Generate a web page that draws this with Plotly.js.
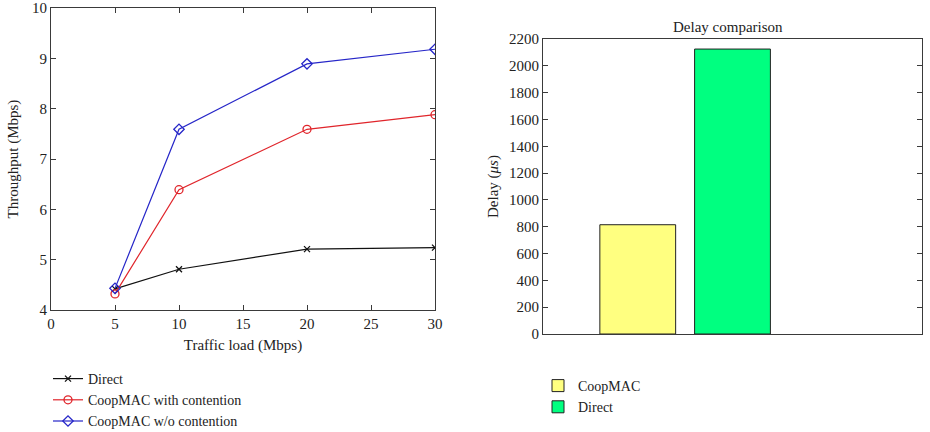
<!DOCTYPE html>
<html>
<head>
<meta charset="utf-8">
<script src="https://cdn.plot.ly/plotly-3.0.1.min.js"></script>
<style>html,body{margin:0;padding:0;background:#fff}#chart{width:930px;height:432px}</style>
</head>
<body>
<div id="chart"></div>
<script>
// ---- Data ----
const trafficLoad = [5, 10, 20, 30];
const directThroughput = [4.42, 4.81, 5.21, 5.24];
const coopWithContention = [4.32, 6.39, 7.59, 7.88];
const coopWithoutContention = [4.43, 7.59, 8.89, 9.18];
const lineSeriesNames = ['Direct', 'CoopMAC with contention', 'CoopMAC w/o contention'];

const delaySchemes = ['CoopMAC', 'Direct'];
const delayValues = [815, 2125];

const xTickVals = [0, 5, 10, 15, 20, 25, 30];
const yTickVals = [4, 5, 6, 7, 8, 9, 10];
const delayTickVals = [0, 200, 400, 600, 800, 1000, 1200, 1400, 1600, 1800, 2000, 2200];

// ---- Styles ----
const FONT = 'Liberation Serif, Times New Roman, serif';
const AXC = '#3a3a3a';
const lineColors = ['#111111', '#e0252b', '#2626c8'];
const lineSymbols = ['x-thin-open', 'circle-open', 'diamond-open'];
const lineSizes = [6, 8, 8];
const barColors = ['#ffff80', '#00ff80'];

const lineSeries = [directThroughput, coopWithContention, coopWithoutContention];
const traces = lineSeries.map((ys, i) => ({
  type: 'scatter', mode: 'lines+markers',
  x: trafficLoad, y: ys, name: lineSeriesNames[i],
  xaxis: 'x', yaxis: 'y', legend: 'legend',
  line: {color: lineColors[i], width: 1.2},
  marker: {symbol: lineSymbols[i], size: lineSizes[i], color: lineColors[i], line: {width: 1.3, color: lineColors[i]}}
}));
delaySchemes.forEach((s, i) => traces.push({
  type: 'bar', x: [s], y: [delayValues[i]], name: s,
  xaxis: 'x2', yaxis: 'y2', legend: 'legend2', width: 0.8,
  marker: {color: barColors[i], line: {color: '#222', width: 1}}
}));

const axBase = {
  showline: true, linecolor: AXC, linewidth: 1, showgrid: false, zeroline: false,
  ticks: 'inside', ticklen: 5, tickcolor: AXC, mirror: 'ticks',
  tickfont: {family: FONT, size: 15, color: '#222'}
};

const layout = {
  width: 930, height: 432,
  margin: {l: 0, r: 0, t: 0, b: 0, autoexpand: false},
  paper_bgcolor: '#fff', plot_bgcolor: '#fff',
  font: {family: FONT, color: '#222'},
  showlegend: true, barmode: 'overlay',
  xaxis: Object.assign({}, axBase, {
    domain: [51/930, 435/930], range: [0, 30], tickvals: xTickVals,
    title: {text: 'Traffic load (Mbps)', font: {family: FONT, size: 15}, standoff: 8}, anchor: 'y'
  }),
  yaxis: Object.assign({}, axBase, {
    domain: [122/432, 424/432], range: [4, 10], tickvals: yTickVals,
    title: {text: 'Throughput (Mbps)', font: {family: FONT, size: 15}, standoff: 9}, anchor: 'x'
  }),
  xaxis2: Object.assign({}, axBase, {
    domain: [543/930, 922/930], type: 'category', range: [-1, 3],
    ticks: '', showticklabels: false, mirror: true, anchor: 'y2'
  }),
  yaxis2: Object.assign({}, axBase, {
    domain: [98/432, 393/432], range: [0, 2200], tickvals: delayTickVals,
    title: {text: 'Delay (<i>μs</i>)', font: {family: FONT, size: 15}, standoff: 6}, anchor: 'x2'
  }),
  legend: {
    x: 48/930, y: 1 - 363/432, xanchor: 'left', yanchor: 'top',
    font: {family: FONT, size: 14}, bgcolor: 'rgba(0,0,0,0)', tracegroupgap: 0
  },
  legend2: {
    x: 538/930, y: 1 - 370/432, xanchor: 'left', yanchor: 'top',
    font: {family: FONT, size: 14}, bgcolor: 'rgba(0,0,0,0)', tracegroupgap: 0
  },
  annotations: [{
    text: 'Delay comparison', xref: 'paper', yref: 'paper',
    x: 728/930, y: 1 - 27/432, xanchor: 'center', yanchor: 'middle',
    showarrow: false, font: {family: FONT, size: 15, color: '#222'}
  }]
};

Plotly.newPlot('chart', traces, layout, {displayModeBar: false, staticPlot: true});
</script>
</body>
</html>
